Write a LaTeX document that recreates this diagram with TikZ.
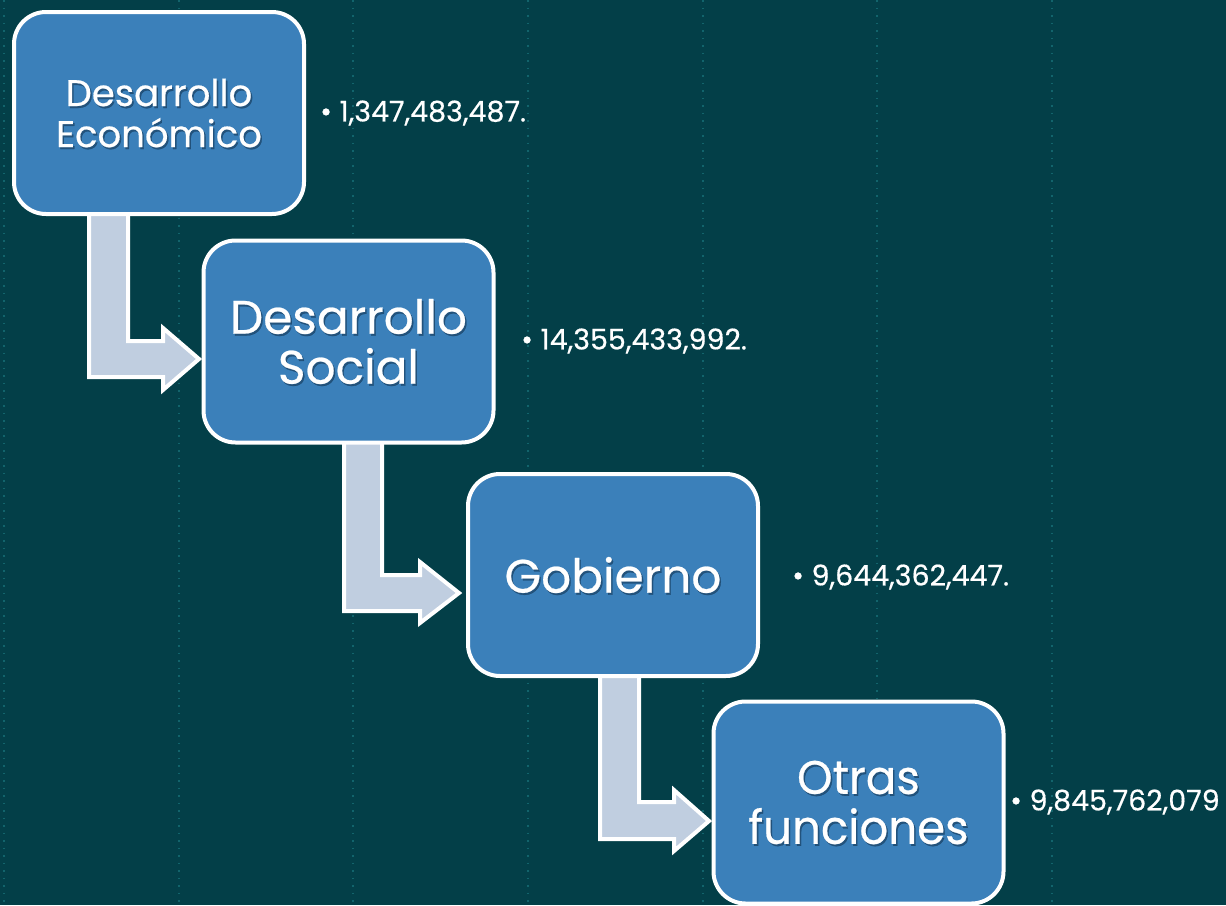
\documentclass[tikz,border=0pt]{standalone}
\usepackage{fontspec}
\setmainfont{Poppins}[FakeBold=0.5]
\definecolor{bgc}{HTML}{033F48}
\definecolor{boxc}{HTML}{3B80BA}
\definecolor{arrc}{HTML}{C0CEE0}
\definecolor{gridc}{HTML}{12646C}
\definecolor{shc}{HTML}{1B4468}
\newcommand{\bigtxt}{\fontsize{47}{50}\selectfont}
\newcommand{\midtxt}{\fontsize{37}{41}\selectfont}
\newcommand{\valtxt}{\fontsize{28.5}{30}\selectfont}
\begin{document}
\begin{tikzpicture}[x=1pt,y=-1pt,
  boxnode/.style={draw=white, line width=4pt, fill=boxc, rounded corners=32pt,
    minimum width=290pt, minimum height=202pt, inner sep=0pt},
  boxtext/.style={text=white, align=center, inner sep=0pt},
  shadowtext/.style={text=shc, opacity=0.75, align=center, inner sep=0pt},
  valnode/.style={text=white, anchor=west, inner sep=0pt, font=\valtxt},
  flowarrow/.style={fill=arrc, draw=white, line width=4pt, line join=miter},
  gridline/.style={draw=gridc, line width=1.3pt, dash pattern=on 1.5pt off 6pt}]
\fill[bgc] (0,0) rectangle (1226,905);
\useasboundingbox (0,0) rectangle (1226,905);
\foreach \gx in {4,179,353,528,703,877,1052}
  \draw[gridline] (\gx,0) -- (\gx,905);

% boxes (positions)
\coordinate (c1) at (159,113);
\coordinate (c2) at (348.5,341.5);
\coordinate (c3) at (613,575);
\coordinate (c4) at (858.5,802.5);

% arrows (drawn beneath boxes)
\coordinate (a1) at (89,212);
\draw[flowarrow] (a1) -- (89,377) -- (163,377) -- (163,390) -- (199,359) -- (163,328)
  -- (163,341) -- (128,341) -- (128,212);
\coordinate (a2) at (344,440);
\draw[flowarrow] (a2) -- (344,611) -- (420,611) -- (420,623) -- (459,593) -- (420,562)
  -- (420,575) -- (382,575) -- (382,440);
\coordinate (a3) at (600,674);
\draw[flowarrow] (a3) -- (600,839) -- (674,839) -- (674,851) -- (709,821) -- (674,790)
  -- (674,802) -- (639,802) -- (639,674);

\node[boxnode] (b1) at (c1) {};
\node[boxnode] (b2) at (c2) {};
\node[boxnode] (b3) at (c3) {};
\node[boxnode] (b4) at (c4) {};

\node[shadowtext, font=\midtxt] (s1) at ([shift={(1.5,2)}]b1.center) {Desarrollo\\Económico};
\node[boxtext, font=\midtxt] (t1) at (b1.center) {Desarrollo\\Económico};
\node[shadowtext, font=\bigtxt] (s2) at ([shift={(1.5,2)}]b2.center) {Desarrollo\\Social};
\node[boxtext, font=\bigtxt] (t2) at (b2.center) {Desarrollo\\Social};
\node[shadowtext, font=\bigtxt] (s3) at ([shift={(1.5,2)}]b3.center) {Gobierno};
\node[boxtext, font=\bigtxt] (t3) at (b3.center) {Gobierno};
\node[shadowtext, font=\bigtxt, xscale=0.96] (s4) at ([shift={(1.5,2)}]b4.center) {Otras\\funciones};
\node[boxtext, font=\bigtxt, xscale=0.96] (t4) at (b4.center) {Otras\\funciones};

\node[valnode] (v1) at (320,113) {• 1,347,483,487.};
\node[valnode] (v2) at (521,341) {• 14,355,433,992.};
\node[valnode] (v3) at (792,577) {• 9,644,362,447.};
\node[valnode] (v4) at (1010,802) {• 9,845,762,079};
\end{tikzpicture}
\end{document}
